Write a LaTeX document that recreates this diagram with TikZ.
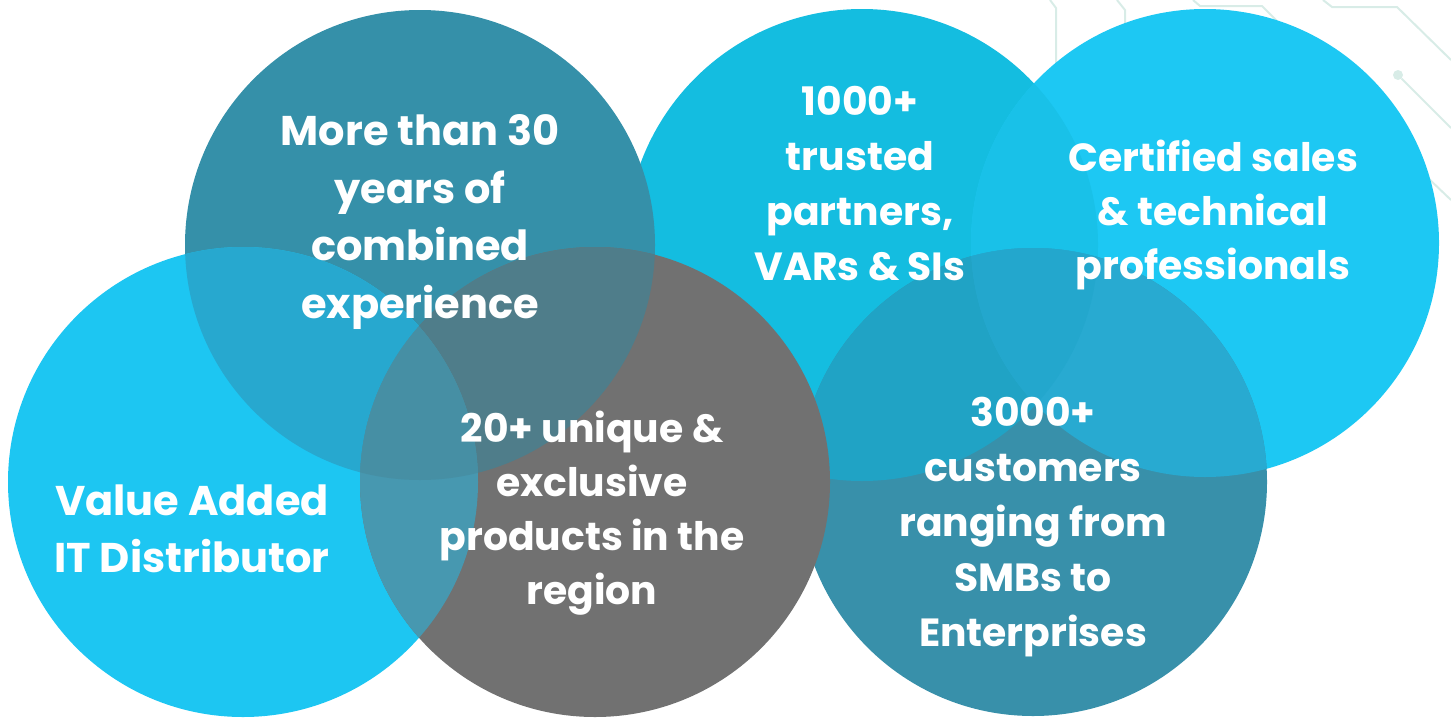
\documentclass[tikz,border=0pt]{standalone}
\usepackage{fontspec}
\setmainfont{Poppins}
\definecolor{cA}{HTML}{3590A9}
\definecolor{cB}{HTML}{1DC6F2}
\definecolor{cC}{HTML}{717171}
\definecolor{cD}{HTML}{14BDE0}
\definecolor{cE}{HTML}{1DC8F3}
\definecolor{cF}{HTML}{3890AA}
\definecolor{cAB}{HTML}{27A8CF}
\definecolor{cAC}{HTML}{4F7D8A}
\definecolor{cBC}{HTML}{4798B0}
\definecolor{cABC}{HTML}{468FA4}
\definecolor{cDE}{HTML}{19C1E8}
\definecolor{cDF}{HTML}{20A3C5}
\definecolor{cEF}{HTML}{28AAD1}
\definecolor{cDEF}{HTML}{23A7CD}
\definecolor{circuit}{HTML}{D8ECE7}
\begin{document}
\begin{tikzpicture}[x=1pt,y=-1pt,
  label/.style={text=white,align=center,font=\bfseries\fontsize{39.3}{55}\selectfont,inner sep=0pt},
  widelabel/.style={label,font=\bfseries\fontsize{41.5}{57.5}\selectfont},
  trace/.style={draw=circuit,line width=2pt}]
\useasboundingbox (0,0) rectangle (1451,720);
% circle centres
\coordinate (A) at (420,245);
\coordinate (B) at (243,482);
\coordinate (C) at (595,482);
\coordinate (D) at (862,245);
\coordinate (E) at (1205,243);
\coordinate (F) at (1033,482);
\def\rA{235pt}\def\rB{235pt}\def\rC{235pt}
\def\rD{236pt}\def\rE{234pt}\def\rF{234pt}
% circuit traces
\coordinate (t1a) at (1050,0);
\coordinate (t2a) at (1117,0);
\coordinate (t3a) at (1193,0);
\coordinate (t4a) at (1323,0);
\coordinate (t4b) at (1451,60);
\coordinate (t5b) at (1451,128);
\coordinate (t6a) at (1428,178);
\coordinate (t6b) at (1451,200);
\draw[trace] (t1a) -- (1056,8) -- (1056,90);
\draw[trace] (t2a) -- (1125,10) -- (1125,40);
\draw[trace] (t3a) -- (1200,6) -- (1262,6) -- (1292,36);
\draw[trace] (t4a) -- (1332,7) -- (1397,7) -- (t4b);
\node[circle,fill=circuit,minimum size=10pt,inner sep=0pt] (dot) at (1398,75) {};
\draw[trace] (dot) -- (t5b);
\draw[trace] (t6a) -- (t6b);
% right group
\fill[cD] (D) circle[radius=\rD];
\fill[cE] (E) circle[radius=\rE];
\fill[cF] (F) circle[radius=\rF];
\begin{scope}\clip (D) circle[radius=\rD]; \fill[cDE] (E) circle[radius=\rE];\end{scope}
\begin{scope}\clip (D) circle[radius=\rD]; \fill[cDF] (F) circle[radius=\rF];\end{scope}
\begin{scope}\clip (E) circle[radius=\rE]; \fill[cEF] (F) circle[radius=\rF];\end{scope}
\begin{scope}\clip (D) circle[radius=\rD]; \clip (E) circle[radius=\rE]; \fill[cDEF] (F) circle[radius=\rF];\end{scope}
% left group
\fill[cA] (A) circle[radius=\rA];
\fill[cB] (B) circle[radius=\rB];
\fill[cC] (C) circle[radius=\rC];
\begin{scope}\clip (A) circle[radius=\rA]; \fill[cAB] (B) circle[radius=\rB];\end{scope}
\begin{scope}\clip (A) circle[radius=\rA]; \fill[cAC] (C) circle[radius=\rC];\end{scope}
\begin{scope}\clip (B) circle[radius=\rB]; \fill[cBC] (C) circle[radius=\rC];\end{scope}
\begin{scope}\clip (A) circle[radius=\rA]; \clip (B) circle[radius=\rB]; \fill[cABC] (C) circle[radius=\rC];\end{scope}
% labels
\node[widelabel] (la) at (420,222) {More than 30\\years of\\combined\\experience};
\node[label] (ld) at (860,184) {1000+\\trusted\\partners,\\VARs \& SIs};
\node[label,font=\bfseries\fontsize{39.3}{54}\selectfont] (le) at (1213,215) {Certified sales\\\& technical\\professionals};
\node[widelabel] (lb) at (192,529) {Value Added\\IT Distributor};
\node[label,font=\bfseries\fontsize{39.3}{54}\selectfont] (lc) at (592,513) {20+ unique \&\\exclusive\\products in the\\region};
\node[label] (lf) at (1033,527) {3000+\\customers\\ranging from\\SMBs to\\Enterprises};
\end{tikzpicture}
\end{document}
